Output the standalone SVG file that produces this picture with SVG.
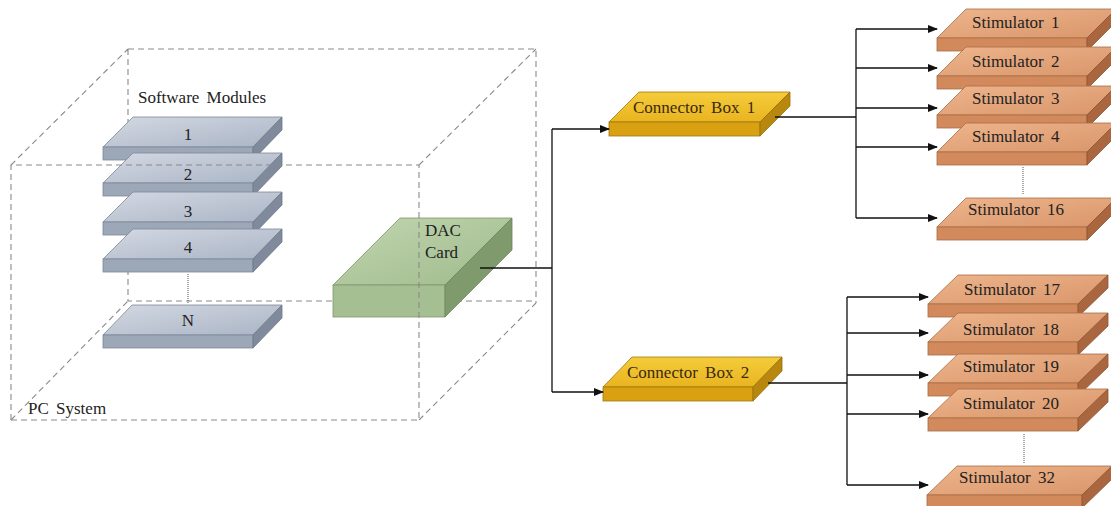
<svg xmlns="http://www.w3.org/2000/svg" width="1111" height="506" viewBox="0 0 1111 506">
<style>
.dash{fill:none;stroke:#8a8a8a;stroke-width:1.1;stroke-dasharray:6 4}
.dot{fill:none;stroke:#555;stroke-width:1;stroke-dasharray:1 1}
.wire{fill:none;stroke:#111;stroke-width:1.3}
.lbl{font-family:"Liberation Serif","Times New Roman",serif;font-size:17px;fill:#222;word-spacing:3px}
.cb{font-family:"Liberation Serif","Times New Roman",serif;font-size:17px;fill:#3a2a10;word-spacing:3px}
.mTop{fill:url(#gMod);stroke:#7d8797;stroke-width:0.8}
.mFront{fill:#9ca7b8;stroke:#7d8797;stroke-width:0.8}
.mSide{fill:#7f8a9c;stroke:#6f7888;stroke-width:0.8}
.dTop{fill:url(#gDac);stroke:#7f9670;stroke-width:0.8}
.dFront{fill:#a5bf92;stroke:#7f9670;stroke-width:0.8}
.dSide{fill:#7f9a6c;stroke:#6f865e;stroke-width:0.8}
.cTop{fill:url(#gCb);stroke:#a07810;stroke-width:0.8}
.cFront{fill:#d9a012;stroke:#a07810;stroke-width:0.8}
.cSide{fill:#b8870e;stroke:#9a700a;stroke-width:0.8}
.sTop{fill:url(#gSt);stroke:#a86d45;stroke-width:0.8}
.sFront{fill:#d28a5c;stroke:#a86d45;stroke-width:0.8}
.sSide{fill:#a9663f;stroke:#8e5535;stroke-width:0.8}
</style>
<defs>
<linearGradient id="gMod" x1="0" y1="0" x2="1" y2="1"><stop offset="0" stop-color="#d3d9e3"/><stop offset="1" stop-color="#aab4c5"/></linearGradient>
<linearGradient id="gDac" x1="0" y1="0" x2="1" y2="1"><stop offset="0" stop-color="#c2d6b0"/><stop offset="1" stop-color="#9fba8b"/></linearGradient>
<linearGradient id="gCb" x1="0" y1="0" x2="0" y2="1"><stop offset="0" stop-color="#f5cc3a"/><stop offset="1" stop-color="#e9b420"/></linearGradient>
<linearGradient id="gSt" x1="0" y1="0" x2="1" y2="1"><stop offset="0" stop-color="#eeb58c"/><stop offset="1" stop-color="#d9956a"/></linearGradient>
<marker id="arr" markerWidth="10" markerHeight="8" refX="9" refY="4" orient="auto" markerUnits="userSpaceOnUse"><path d="M0,0 L10,4 L0,8 Z" fill="#111"/></marker>
</defs>
<rect width="1111" height="506" fill="#fff"/>

<g id="pc-system-back">
<path class="dash" d="M128,49 H536 V303 M128,49 V301 H536 M11,165 L128,49 M419,165 L536,49 M11,420 L128,301 M419,420 L536,303"/>
</g>

<g id="software-modules">
<text class="lbl" x="138" y="103">Software Modules</text>
<g id="module-1"><polygon class="mTop" points="103,147 133,117 282,117 253,147"/><rect class="mFront" x="103" y="147" width="150" height="13"/><polygon class="mSide" points="253,147 282,117 282,130 253,160"/><text class="lbl" x="188" y="140" text-anchor="middle">1</text></g>
</g>
<g id="module-2"><polygon class="mTop" points="103,183 133,153 282,153 253,183"/><rect class="mFront" x="103" y="183" width="150" height="13"/><polygon class="mSide" points="253,183 282,153 282,166 253,196"/><text class="lbl" x="188" y="180" text-anchor="middle">2</text></g>
<g id="module-3"><polygon class="mTop" points="103,222 133,192 282,192 253,222"/><rect class="mFront" x="103" y="222" width="150" height="13"/><polygon class="mSide" points="253,222 282,192 282,205 253,235"/><text class="lbl" x="188" y="217" text-anchor="middle">3</text></g>
<g id="module-4"><polygon class="mTop" points="103,259 133,229 282,229 253,259"/><rect class="mFront" x="103" y="259" width="150" height="13"/><polygon class="mSide" points="253,259 282,229 282,242 253,272"/><text class="lbl" x="188" y="253" text-anchor="middle">4</text></g>
<g id="module-n"><polygon class="mTop" points="103,335 132,305 282,305 253,335"/><rect class="mFront" x="103" y="335" width="150" height="13"/><polygon class="mSide" points="253,335 282,305 282,318 253,348"/><text class="lbl" x="188" y="326" text-anchor="middle">N</text></g>

<g id="dac-card">
<polygon class="dTop" points="333,285 400,218 512,218 445,285"/>
<rect class="dFront" x="333" y="285" width="112" height="32"/>
<polygon class="dSide" points="445,285 512,218 512,250 445,317"/>
<text class="lbl" x="425" y="236">DAC</text>
<text class="lbl" x="425" y="258">Card</text>
</g>

<g id="pc-system-front">
<path class="dash" d="M11,420 V165 H419 V420 H11"/>
<text class="lbl" x="28" y="414">PC System</text>
</g>

<g id="connector-box-1">
<polygon class="cTop" points="609,122 639,92 790,92 760,122"/>
<rect class="cFront" x="609" y="122" width="151" height="14"/>
<polygon class="cSide" points="760,122 790,92 790,106 760,136"/>
<text class="cb" x="633" y="113">Connector Box 1</text>
</g>
<g id="connector-box-2">
<polygon class="cTop" points="603,387 632,357 782,357 753,387"/>
<rect class="cFront" x="603" y="387" width="150" height="14"/>
<polygon class="cSide" points="753,387 782,357 782,371 753,401"/>
<text class="cb" x="627" y="378">Connector Box 2</text>
</g>

<g id="stimulator-1"><polygon class="sTop" points="937,38 966,9 1116,9 1087,38"/><rect class="sFront" x="937" y="38" width="150" height="13"/><polygon class="sSide" points="1087,38 1116,9 1116,22 1087,51"/><text class="lbl" x="972" y="28">Stimulator 1</text></g>
<g id="stimulator-2"><polygon class="sTop" points="937,76 966,47 1116,47 1087,76"/><rect class="sFront" x="937" y="76" width="150" height="13"/><polygon class="sSide" points="1087,76 1116,47 1116,60 1087,89"/><text class="lbl" x="972" y="67">Stimulator 2</text></g>
<g id="stimulator-3"><polygon class="sTop" points="937,115 966,86 1116,86 1087,115"/><rect class="sFront" x="937" y="115" width="150" height="13"/><polygon class="sSide" points="1087,115 1116,86 1116,99 1087,128"/><text class="lbl" x="972" y="104">Stimulator 3</text></g>
<g id="stimulator-4"><polygon class="sTop" points="937,152 966,123 1116,123 1087,152"/><rect class="sFront" x="937" y="152" width="150" height="13"/><polygon class="sSide" points="1087,152 1116,123 1116,136 1087,165"/><text class="lbl" x="972" y="142">Stimulator 4</text></g>
<g id="stimulator-16"><polygon class="sTop" points="937,227 966,198 1116,198 1087,227"/><rect class="sFront" x="937" y="227" width="150" height="13"/><polygon class="sSide" points="1087,227 1116,198 1116,211 1087,240"/><text class="lbl" x="968" y="215">Stimulator 16</text></g>

<g id="stimulator-17"><polygon class="sTop" points="928,304 958,275 1108,275 1078,304"/><rect class="sFront" x="928" y="304" width="150" height="13"/><polygon class="sSide" points="1078,304 1108,275 1108,288 1078,317"/><text class="lbl" x="964" y="295">Stimulator 17</text></g>
<g id="stimulator-18"><polygon class="sTop" points="928,342 958,313 1108,313 1078,342"/><rect class="sFront" x="928" y="342" width="150" height="13"/><polygon class="sSide" points="1078,342 1108,313 1108,326 1078,355"/><text class="lbl" x="963" y="335">Stimulator 18</text></g>
<g id="stimulator-19"><polygon class="sTop" points="928,383 958,354 1108,354 1078,383"/><rect class="sFront" x="928" y="383" width="150" height="13"/><polygon class="sSide" points="1078,383 1108,354 1108,367 1078,396"/><text class="lbl" x="963" y="372">Stimulator 19</text></g>
<g id="stimulator-20"><polygon class="sTop" points="928,418 958,389 1108,389 1078,418"/><rect class="sFront" x="928" y="418" width="150" height="13"/><polygon class="sSide" points="1078,418 1108,389 1108,402 1078,431"/><text class="lbl" x="963" y="409">Stimulator 20</text></g>
<g id="stimulator-32"><polygon class="sTop" points="927,495 957,466 1112,466 1082,495"/><rect class="sFront" x="927" y="495" width="155" height="13"/><polygon class="sSide" points="1082,495 1112,466 1112,479 1082,508"/><text class="lbl" x="959" y="483">Stimulator 32</text></g>

<g id="connectors">
<path class="dot" d="M188,274 V303 M1023,167 V194 M1024,434 V463"/>
<path class="wire" d="M480,268 H552 M552,129 V392"/>
<path class="wire" d="M552,129 H609" marker-end="url(#arr)"/>
<path class="wire" d="M552,392 H603" marker-end="url(#arr)"/>
<path class="wire" d="M775,117 H856 M856,29 V218"/>
<path class="wire" d="M856,29 H937" marker-end="url(#arr)"/>
<path class="wire" d="M856,68 H937" marker-end="url(#arr)"/>
<path class="wire" d="M856,108 H937" marker-end="url(#arr)"/>
<path class="wire" d="M856,147 H937" marker-end="url(#arr)"/>
<path class="wire" d="M856,218 H937" marker-end="url(#arr)"/>
<path class="wire" d="M768,383 H847 M847,297 V485"/>
<path class="wire" d="M847,297 H928" marker-end="url(#arr)"/>
<path class="wire" d="M847,333 H928" marker-end="url(#arr)"/>
<path class="wire" d="M847,375 H928" marker-end="url(#arr)"/>
<path class="wire" d="M847,414 H928" marker-end="url(#arr)"/>
<path class="wire" d="M847,485 H928" marker-end="url(#arr)"/>
</g>
</svg>
